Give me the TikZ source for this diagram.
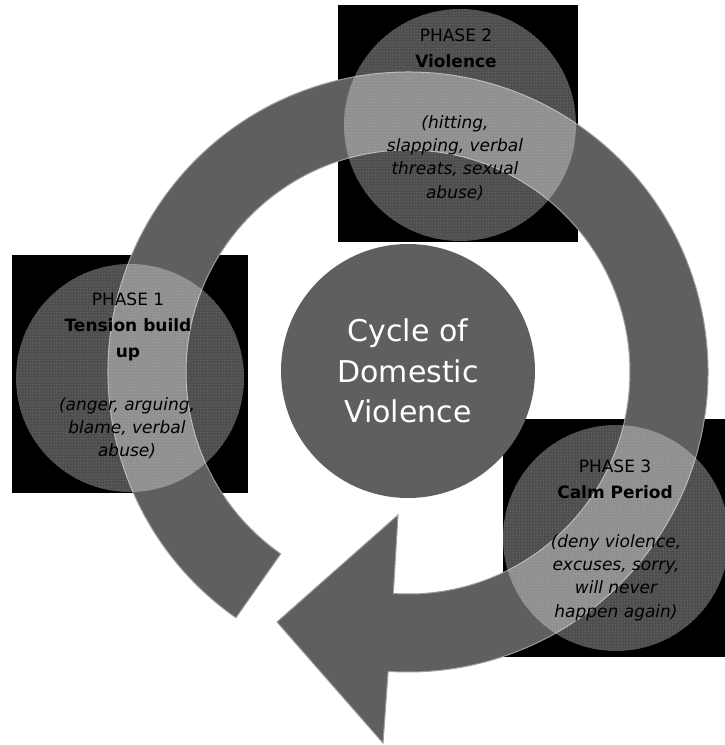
\documentclass[tikz,border=0pt]{standalone}
\usepackage{fontspec}
\setmainfont{DejaVu Sans}
\usepackage{tikz}
\usetikzlibrary{calc,patterns}

\definecolor{bandgray}{HTML}{5F5F5F}
\definecolor{edgegray}{HTML}{9C9C9C}

\tikzset{
  backsq/.style={fill=black},
  band/.style={fill=bandgray, draw=edgegray, line width=1pt, line join=miter},
  phase/.style={circle, inner sep=0pt, fill=white, fill opacity=.3,
    postaction={pattern=dots, pattern color=white, fill opacity=.4}},
  head/.style={align=center, inner sep=0pt, anchor=north,
    font=\fontsize{17}{26}\selectfont},
  desc/.style={align=center, inner sep=0pt, anchor=north,
    font=\fontsize{17}{23.3}\selectfont\itshape},
  centre/.style={circle, inner sep=0pt, fill=bandgray, text=white,
    align=center, font=\fontsize{30}{40.5}\selectfont}
}

\begin{document}
\begin{tikzpicture}[x=1pt, y=-1pt]
  \useasboundingbox (0,0) rectangle (725,745);

  % black squares behind the phases
  \fill[backsq] (12,255) rectangle (248,493);
  \fill[backsq] (338,5) rectangle (578,242);
  \fill[backsq] (503,419) rectangle (725,657);

  % the ring arrow
  \coordinate (ctr) at (408,372);
  \coordinate (barbup) at (398,515);
  \coordinate (tip) at (277,622);
  \coordinate (barblow) at (383,743);
  \filldraw[band] ($(ctr)+(125:300)$) arc[start angle=125, end angle=453.8, radius=300]
    -- (barblow) -- (tip) -- (barbup)
    -- ($(ctr)+(93.8:222)$) arc[start angle=453.8, end angle=125, radius=222] -- cycle;

  % phase circles
  \node[phase, minimum size=228pt] (c1) at (130,378) {};
  \node[phase, minimum size=232pt] (c2) at (460,125) {};
  \node[phase, minimum size=226pt] (c3) at (616,538) {};

  \node[centre, minimum size=254pt] (cycle) at (408,371) {Cycle of\\Domestic\\Violence};

  \node[head] (p1head) at (128,292.6) {PHASE 1\\\textbf{Tension build}\\\textbf{up}};
  \node[desc] (p1desc) at (127,397) {(anger, arguing,\\blame, verbal\\abuse)};

  \node[head] (p2head) at (456,28.6) {PHASE 2\\\textbf{Violence}};
  \node[desc] (p2desc) at (455,115) {(hitting,\\slapping, verbal\\threats, sexual\\abuse)};

  \node[head] (p3head) at (615,459.6) {PHASE 3\\\textbf{Calm Period}};
  \node[desc] (p3desc) at (616,534) {(deny violence,\\excuses, sorry,\\will never\\happen again)};
\end{tikzpicture}
\end{document}
